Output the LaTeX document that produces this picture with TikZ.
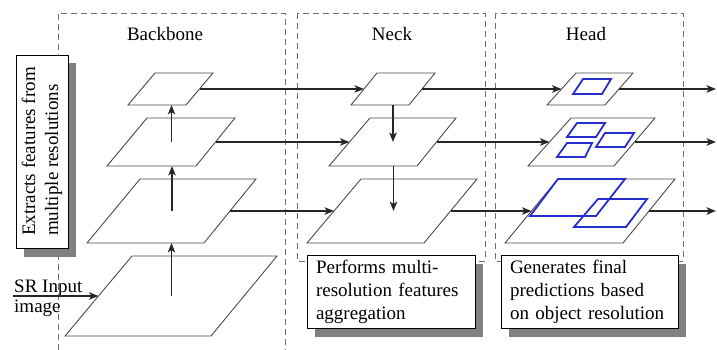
\documentclass[tikz,border=0pt]{standalone}
\usepackage{fontspec}
\setmainfont{Liberation Serif}
\usetikzlibrary{arrows.meta,calc,shadows}
\definecolor{regiongray}{RGB}{110,110,110}
\definecolor{planegray}{RGB}{75,75,75}
\definecolor{shadowgray}{RGB}{128,128,128}
\definecolor{boxblue}{RGB}{40,45,205}
\newcommand\mkplane[5]{%
  \coordinate (#1tl) at #2; \coordinate (#1tr) at #3;
  \coordinate (#1br) at #4; \coordinate (#1bl) at #5;
  \draw[plane] (#1tl) -- (#1tr) -- (#1br) -- (#1bl) -- cycle;
  \coordinate (#1l) at ($(#1tl)!0.5!(#1bl)$);
  \coordinate (#1r) at ($(#1tr)!0.5!(#1br)$);
  \coordinate (#1c) at ($(#1tl)!0.5!(#1br)$);
}
\tikzset{
  lbl/.style={font=\fontsize{19}{22}\selectfont, inner sep=0pt},
  region/.style={draw=regiongray, dash pattern=on 6pt off 4pt, line width=0.9pt},
  plane/.style={draw=planegray, line width=0.9pt},
  bluebox/.style={draw=boxblue, line width=1.8pt},
  flow/.style={draw=black!85, line width=1.45pt, -{Stealth[length=9.5pt,width=7.5pt,inset=2.5pt]}},
  textbox/.style={draw=black, line width=0.9pt, fill=white, align=left,
    font=\fontsize{19}{23}\selectfont,
    drop shadow={shadow xshift=8pt, shadow yshift=-8.5pt, fill=shadowgray, opacity=1}},
}
\begin{document}
\begin{tikzpicture}[x=1pt,y=-1pt]
\useasboundingbox (0,0) rectangle (717,350);
% regions
\draw[region] (58,350) -- (58,13) -- (285,13) -- (285,350);
\draw[region] (297,13) rectangle (485,261);
\draw[region] (495,13) rectangle (683,261);
\node[lbl] (backbone) at (165,34) {Backbone};
\node[lbl] (neck) at (392,34) {Neck};
\node[lbl] (head) at (586,34) {Head};
% backbone planes
\mkplane{P1}{(155,73)}{(213,73)}{(186,105)}{(128,105)}
\mkplane{P2}{(147,118)}{(235,118)}{(196,166)}{(107,166)}
\mkplane{P3}{(140,179)}{(256,179)}{(204,243)}{(87,243)}
\mkplane{P4}{(132,256)}{(277,256)}{(211,336)}{(65,336)}
% neck planes
\mkplane{N1}{(377,73)}{(435,73)}{(409,105)}{(351,105)}
\mkplane{N2}{(370,118)}{(456,118)}{(417,166)}{(329,166)}
\mkplane{N3}{(361,179)}{(477,179)}{(424,243)}{(307,243)}
% head planes
\mkplane{H1}{(576,73)}{(633,73)}{(605,105)}{(547,105)}
\mkplane{H2}{(571,118)}{(655,118)}{(614,166)}{(528,166)}
\mkplane{H3}{(558,179)}{(675,179)}{(623,243)}{(505,243)}
% detections
\draw[bluebox] (583,79) -- (611,79) -- (602,94) -- (573,94) -- cycle;
\draw[bluebox] (577,123) -- (605,123) -- (596,137) -- (567,137) -- cycle;
\draw[bluebox] (605,133) -- (634,133) -- (625,147) -- (596,147) -- cycle;
\draw[bluebox] (567,143) -- (592,143) -- (585,157) -- (557,157) -- cycle;
\draw[bluebox] (558,179) -- (625,179) -- (596,216) -- (530,216) -- cycle;
\draw[bluebox] (598,199) -- (647,199) -- (626,227) -- (574,227) -- cycle;
% vertical flows
\draw[flow] (P4c) -- (P4c |- P3bl);
\draw[flow] (P3c) -- (P3c |- P2bl);
\draw[flow] (P2c) -- (P2c |- P1bl);
\draw[flow] (N1c |- N1bl) -- (N1c |- N2c);
\draw[flow] (N2c |- N2bl) -- (N2c |- N3c);
% horizontal flows
\coordinate (out1) at (716,89);
\coordinate (out2) at (716,142);
\coordinate (out3) at (716,211);
\draw[flow] (P1r) -- (N1l);
\draw[flow] (N1r) -- (H1l);
\draw[flow] (H1r) -- (out1);
\draw[flow] (P2r) -- (N2l);
\draw[flow] (N2r) -- (H2l);
\draw[flow] (H2r) -- (out2);
\draw[flow] (P3r) -- (N3l);
\draw[flow] (N3r) -- (H3l);
\draw[flow] (H3r) -- (out3);
% input
\node[lbl, font=\fontsize{19}{20}\selectfont, align=left, anchor=north west] (srlabel) at (14,280) {SR Input\\image};
\coordinate (srin) at (13,296);
\draw[flow] (srin) -- (P4l);
% text boxes
\node[textbox, minimum width=52pt, minimum height=193pt, inner sep=0pt] (extract) at (42,151.5)
  {\rotatebox{90}{\begin{tabular}{@{}l@{}}Extracts features from\\multiple resolutions\end{tabular}}};
\node[textbox, text width=150pt, inner xsep=9pt, minimum height=73pt] (neckbox) at (391,291.5)
  {Performs multi-\\resolution features\\aggregation};
\node[textbox, text width=159pt, inner xsep=9pt, minimum height=73pt] (headbox) at (589.5,291.5)
  {Generates final\\predictions based\\on object resolution};
\end{tikzpicture}
\end{document}
